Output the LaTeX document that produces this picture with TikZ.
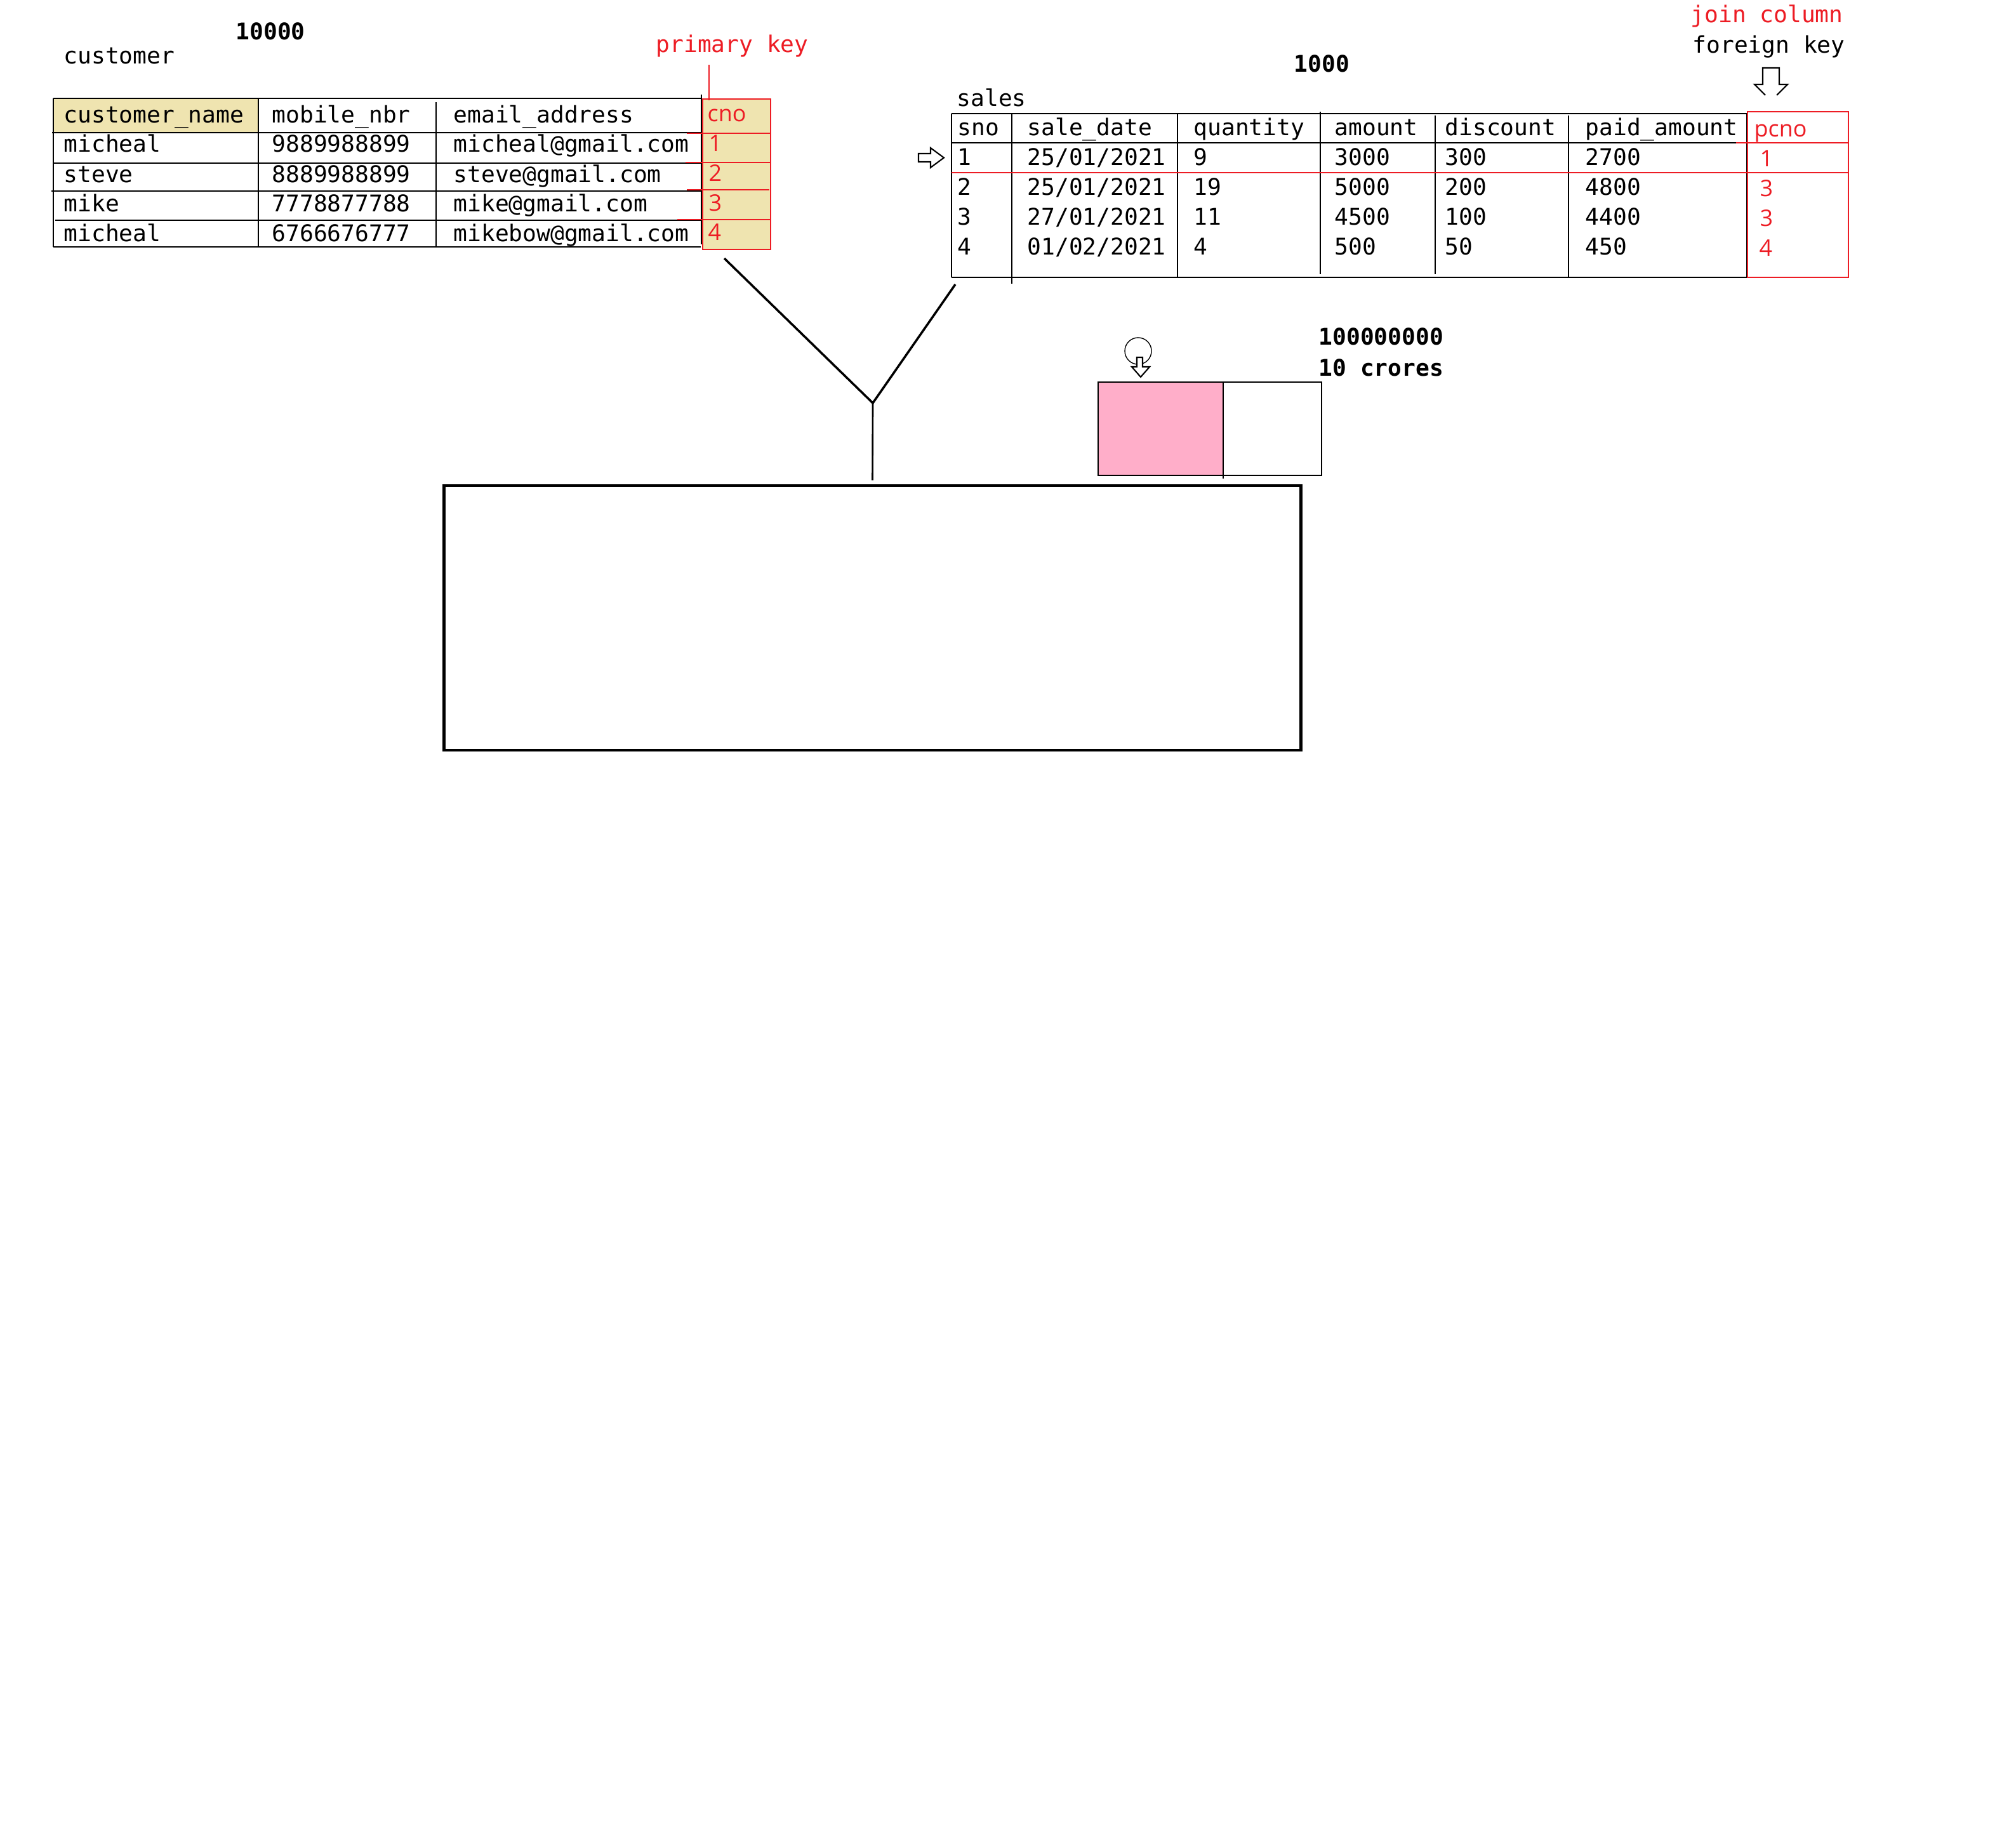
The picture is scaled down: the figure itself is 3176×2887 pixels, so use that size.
\documentclass[tikz,border=0pt]{standalone}
\usepackage{fontspec}
\usepackage{xcolor}
\usepackage{tikz}
\newfontfamily\monofont{DejaVu Sans Mono}
\newfontfamily\keyfont{Open Sans}
\definecolor{keyred}{HTML}{ED1C24}
\definecolor{paletan}{HTML}{EFE4B0}
\definecolor{rosepink}{HTML}{FFAEC9}
\newcommand{\cellfont}{\monofont\fontsize{10.3}{12}\selectfont}
\newcommand{\keycellfont}{\keyfont\fontsize{10.2}{12}\selectfont}
\tikzset{
    cell/.style={anchor=base west, inner sep=0pt, font=\cellfont},
    boldcell/.style={cell, font=\cellfont\bfseries},
    redcell/.style={cell, text=keyred},
    keycell/.style={anchor=base west, inner sep=0pt, text=keyred, font=\keycellfont},
    rowline/.style={line width=0.8pt},
    colline/.style={line width=0.6pt},
    keyline/.style={draw=keyred, line width=0.7pt},
    arrowline/.style={line width=0.6pt, line join=miter},
    yline/.style={line width=1pt},
    resultbox/.style={draw, line width=1.3pt, inner sep=0pt, minimum width=13.49cm, minimum height=4.17cm}
}
\newcommand{\cellText}[4]{
    \node[cell] (#1) at (#2,#3) {#4}
}

\begin{document}
\begin{tikzpicture}[x=0.01cm,y=-0.01cm]
            \newcommand{\keyText}[4]{
                \node[keycell] (#1) at (#2,#3) {#4}
            }
            \path[use as bounding box, fill=white] (0,0) rectangle (3176,2887);

            \fill[paletan] (84,155) rectangle (407,209);
            \fill[paletan] (1107,156) rectangle (1214,393);
            \draw[rowline] (84,155) -- (1104,155);
            \draw[rowline] (82,209) -- (1104,209);
            \draw[rowline] (84,257) -- (1104,257);
            \draw[rowline] (81,301) -- (1104,301);
            \draw[rowline] (87,347) -- (1104,347);
            \draw[rowline] (84,389) -- (1104,389);
            \draw[colline] (84,155) -- (84,389);
            \draw[colline] (407,155) -- (407,389);
            \draw[colline] (687,161) -- (687,389);
            \draw[colline] (1105,149) -- (1105,385);
            \draw[keyline] (1107,156) rectangle (1214,393);
            \draw[keyline] (1082,210) -- (1214,210);
            \draw[keyline] (1080,256) -- (1214,256);
            \draw[keyline] (1082,299) -- (1212,299);
            \draw[keyline] (1067,346) -- (1214,346);

            \node[boldcell] (custcount) at (371,62) {10000};
            \cellText{custtitle}{100}{100}{customer};
            \node[redcell] (pklabel) at (1033,82) {primary key};
            \coordinate (pktop) at (1117,102);
            \coordinate (pkfoot) at (1117,158);
            \draw[keyline] (pktop) -- (pkfoot);

            \cellText{hname}{100}{193}{customer\_name};
            \cellText{hmobile}{428}{193}{mobile\_nbr};
            \cellText{hemail}{714}{193}{email\_address};
            \keyText{hcno}{1114}{191}{cno};
            \cellText{c1name}{100}{239}{micheal};
            \cellText{c1mobile}{428}{239}{9889988899};
            \cellText{c1email}{714}{239}{micheal@gmail.com};
            \keyText{c1cno}{1116}{238}{1};
            \cellText{c2name}{100}{287}{steve};
            \cellText{c2mobile}{428}{287}{8889988899};
            \cellText{c2email}{714}{287}{steve@gmail.com};
            \keyText{c2cno}{1116}{285}{2};
            \cellText{c3name}{100}{333}{mike};
            \cellText{c3mobile}{428}{333}{7778877788};
            \cellText{c3email}{714}{333}{mike@gmail.com};
            \keyText{c3cno}{1116}{332}{3};
            \cellText{c4name}{100}{380}{micheal};
            \cellText{c4mobile}{428}{380}{6766676777};
            \cellText{c4email}{714}{380}{mikebow@gmail.com};
            \keyText{c4cno}{1115}{378}{4};

            \draw[rowline] (1499,179) -- (2752,179);
            \draw[rowline] (1499,225) -- (2735,225);
            \draw[rowline] (1499,437) -- (2752,437);
            \draw[colline] (1499,179) -- (1499,437);
            \draw[colline] (1594,179) -- (1594,447);
            \draw[colline] (1855,179) -- (1855,437);
            \draw[colline] (2080,176) -- (2080,432);
            \draw[colline] (2261,182) -- (2261,432);
            \draw[colline] (2471,182) -- (2471,437);
            \draw[rowline] (2752,179) -- (2752,437);
            \draw[keyline] (2753,176) rectangle (2912,437);
            \draw[keyline] (2735,225) -- (2912,225);
            \draw[keyline] (1499,272) -- (2912,272);

            \node[boldcell] (salescount) at (2038,113) {1000};
            \cellText{salestitle}{1507}{167}{sales};
            \node[redcell] (fklabel) at (2663,35) {join column};
            \cellText{fknote}{2666}{83}{foreign key};
            \draw[arrowline] (2781,150) -- (2764,133) -- (2777,133) -- (2777,107) -- (2803,107) -- (2803,133) -- (2816,133) -- (2799,150);
            \draw[arrowline] (1447,242) -- (1466,242) -- (1466,233) -- (1487,248.5) -- (1466,264) -- (1466,255) -- (1447,255) -- cycle;

            \cellText{hsno}{1508}{213}{sno};
            \cellText{hdate}{1618}{213}{sale\_date};
            \cellText{hqty}{1880}{213}{quantity};
            \cellText{hamount}{2102}{213}{amount};
            \cellText{hdisc}{2276}{213}{discount};
            \cellText{hpaid}{2497}{213}{paid\_amount};
            \keyText{hpcno}{2763}{215}{pcno};
            \cellText{s1sno}{1508}{260}{1};
            \cellText{s1date}{1618}{260}{25/01/2021};
            \cellText{s1qty}{1880}{260}{9};
            \cellText{s1amount}{2102}{260}{3000};
            \cellText{s1disc}{2276}{260}{300};
            \cellText{s1paid}{2497}{260}{2700};
            \keyText{s1pcno}{2772}{262}{1};
            \cellText{s2sno}{1508}{307}{2};
            \cellText{s2date}{1618}{307}{25/01/2021};
            \cellText{s2qty}{1880}{307}{19};
            \cellText{s2amount}{2102}{307}{5000};
            \cellText{s2disc}{2276}{307}{200};
            \cellText{s2paid}{2497}{307}{4800};
            \keyText{s2pcno}{2772}{309}{3};
            \cellText{s3sno}{1508}{354}{3};
            \cellText{s3date}{1618}{354}{27/01/2021};
            \cellText{s3qty}{1880}{354}{11};
            \cellText{s3amount}{2102}{354}{4500};
            \cellText{s3disc}{2276}{354}{100};
            \cellText{s3paid}{2497}{354}{4400};
            \keyText{s3pcno}{2772}{356}{3};
            \cellText{s4sno}{1508}{401}{4};
            \cellText{s4date}{1618}{401}{01/02/2021};
            \cellText{s4qty}{1880}{401}{4};
            \cellText{s4amount}{2102}{401}{500};
            \cellText{s4disc}{2276}{401}{50};
            \cellText{s4paid}{2497}{401}{450};
            \keyText{s4pcno}{2771}{403}{4};

            \fill[rosepink] (1730,602) rectangle (1927,749);
            \draw[rowline] (1730,602) rectangle (2082,749);
            \draw[colline] (1927,602) -- (1927,754);
            \draw[line width=0.4pt] (1793,553) circle [radius=0.21cm];
            \draw[arrowline, fill=white] (1791,563) -- (1800,563) -- (1800,578) -- (1811,578) -- (1797,594) -- (1783,578) -- (1791,578) -- cycle;
            \node[boldcell] (rowcount) at (2077,543) {100000000};
            \node[boldcell] (rowcrores) at (2077,592) {10 crores};

            \node[resultbox] (result) at (1374.5,973.5) {};
            \coordinate (custfoot) at (1141,407);
            \coordinate (salesfoot) at (1505,448);
            \coordinate (joinpt) at (1375,635);
            \draw[yline] (custfoot) -- (joinpt) -- (salesfoot);
            \draw[line width=0.75pt] (joinpt) -- ([yshift=0.06cm]result.north);
        \end{tikzpicture}
\end{document}
